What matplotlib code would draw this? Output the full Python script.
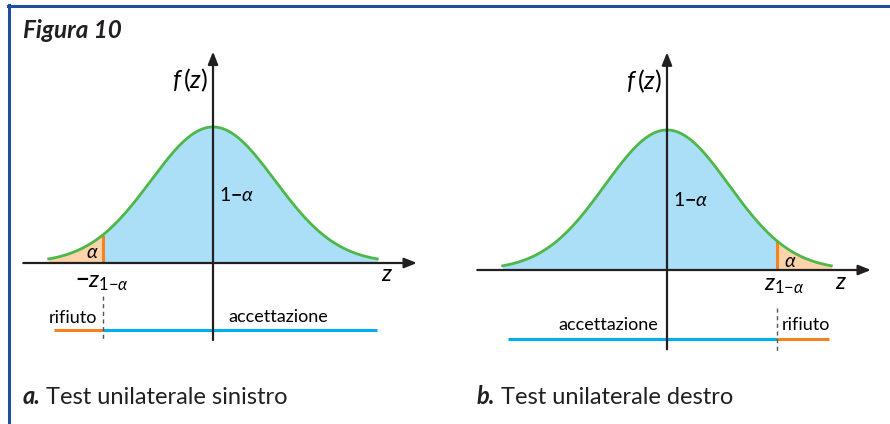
import numpy as np
import matplotlib
matplotlib.use("Agg")
import matplotlib.pyplot as plt
from matplotlib.lines import Line2D

plt.rcParams['font.family'] = ['Lato', 'DejaVu Sans']
plt.rcParams['mathtext.fontset'] = 'custom'
plt.rcParams['mathtext.rm'] = 'Lato'
plt.rcParams['mathtext.it'] = 'Lato:italic'
plt.rcParams['mathtext.bf'] = 'Lato:bold'
plt.rcParams['mathtext.fallback'] = 'stixsans'

# ---- data ----
z_crit = 1.77          # critical value z_{1-alpha}
z_min, z_max = -2.65, 2.65   # drawn extent of the density curve
panel_letters = ["a.", "b."]
panel_titles = ["Test unilaterale sinistro", "Test unilaterale destro"]
fig_title = "Figura 10"
region_labels = ["rifiuto", "accettazione"]

C_GREEN = "#4DB848"
C_BLUE_FILL = "#ABDFF8"
C_ORANGE_FILL = "#FCD3AA"
C_ORANGE = "#F58220"
C_BLUE = "#00AEEF"
C_AXIS = "#231F20"
C_BORDER = "#1D4F9E"

W, H = 890, 424
fig = plt.figure(figsize=(W / 100, H / 100), dpi=100)


def pdf(z):
    return np.exp(-z ** 2 / 2) / np.sqrt(2 * np.pi)


def panel_axes(x0, y0, sx, sy):
    """full-figure axes; data (0,0) at pixel (x0, y0 from top)."""
    ax = fig.add_axes([0, 0, 1, 1])
    ax.set_xlim(-x0 / sx, (W - x0) / sx)
    ax.set_ylim((y0 - H) / sy, y0 / sy)
    ax.axis("off")
    ax.patch.set_alpha(0)
    return ax


def arrow(ax, x1, y1, x2, y2):
    ax.annotate("", xy=(x2, y2), xytext=(x1, y1),
                arrowprops=dict(arrowstyle="-|>,head_length=0.75,head_width=0.3",
                                color=C_AXIS, lw=1.6, shrinkA=0, shrinkB=0))


SUB = r"_{1\mathrm{-}\alpha}"


def draw_panel(ax, side):
    z = np.linspace(z_min, z_max, 400)
    f = pdf(z)
    if side == "left":
        rej = z <= -z_crit
        acc = z >= -z_crit
        zc = -z_crit
    else:
        rej = z >= z_crit
        acc = z <= z_crit
        zc = z_crit
    ax.fill_between(z[acc], 0, f[acc], color=C_BLUE_FILL, lw=0, zorder=1)
    ax.fill_between(z[rej], 0, f[rej], color=C_ORANGE_FILL, lw=0, zorder=1)
    ax.plot([zc, zc], [0, pdf(zc)], color=C_ORANGE, lw=2.2, zorder=2,
            solid_capstyle="butt")
    ax.plot(z, f, color=C_GREEN, lw=2.0, zorder=3)
    # axes
    arrow(ax, -3.06, 0, 3.29, 0)
    arrow(ax, 0, -0.226, 0, 0.62)
    # region lines
    yl = -0.197
    if side == "left":
        ax.plot([-2.56, zc], [yl, yl], color=C_ORANGE, lw=2.2, solid_capstyle="butt")
        ax.plot([zc, 2.65], [yl, yl], color=C_BLUE, lw=2.2, solid_capstyle="butt")
        ax.plot([zc, zc], [-0.097, -0.226], color="#555555", lw=1.0,
                ls=(0, (3, 2.5)), zorder=4)
        ax.text(-1.87, -0.16, region_labels[0], ha="right", va="center", fontsize=13)
        ax.text(0.24, -0.158, region_labels[1], ha="left", va="center", fontsize=13)
        ax.text(-1.79, -0.056, r"$\mathbf{-}z" + SUB + "$", ha="center", va="center",
                fontsize=17)
        ax.text(-1.94, 0.032, r"$\alpha$", ha="center", va="center", fontsize=14)
    else:
        ax.plot([-2.56, zc], [yl, yl], color=C_BLUE, lw=2.2, solid_capstyle="butt")
        ax.plot([zc, 2.61], [yl, yl], color=C_ORANGE, lw=2.2, solid_capstyle="butt")
        ax.plot([zc, zc], [-0.108, -0.236], color="#555555", lw=1.0,
                ls=(0, (3, 2.5)), zorder=4)
        ax.text(-0.15, -0.157, region_labels[1], ha="right", va="center", fontsize=13)
        ax.text(1.85, -0.157, region_labels[0], ha="left", va="center", fontsize=13)
        ax.text(1.89, -0.043, r"$z" + SUB + "$", ha="center", va="center", fontsize=17)
        ax.text(1.98, 0.023, r"$\alpha$", ha="center", va="center", fontsize=14)
    ax.text(2.8, -0.035, r"$z$", ha="center", va="center", fontsize=17)
    ax.text(0.1, 0.2, r"$1\mathbf{-}\alpha$", ha="left", va="center", fontsize=14)
    ax.text(-0.08, 0.537, r"$f\,(z)$", ha="right", va="center", fontsize=18)


ax_a = panel_axes(213, 263, 62, 341)
draw_panel(ax_a, "left")
ax_b = panel_axes(667, 270, 62, 351)
draw_panel(ax_b, "right")

# border
fig.add_artist(Line2D([8 / W, 1], [1 - 6 / H, 1 - 6 / H], color=C_BORDER, lw=2.2,
                      transform=fig.transFigure))
fig.add_artist(Line2D([9 / W, 9 / W], [1 - 5 / H, 0], color=C_BORDER, lw=2.2,
                      transform=fig.transFigure))

fig.text(23 / W, 1 - 30 / H, fig_title, fontsize=17.5, fontweight="bold",
         style="italic", ha="left", va="center", color="#231F20")

for xpx, letter, title in zip([23, 477], panel_letters, panel_titles):
    t1 = fig.text(xpx / W, 1 - 397 / H, letter, fontsize=17, fontweight="bold",
                  style="italic", ha="left", va="center", color="#231F20")
    ax_a.annotate(title, xy=(1, 0.5), xycoords=t1, xytext=(4, 0),
                  textcoords="offset points", ha="left", va="center",
                  fontsize=17, color="#231F20")

fig.savefig("out.png", dpi=100)
